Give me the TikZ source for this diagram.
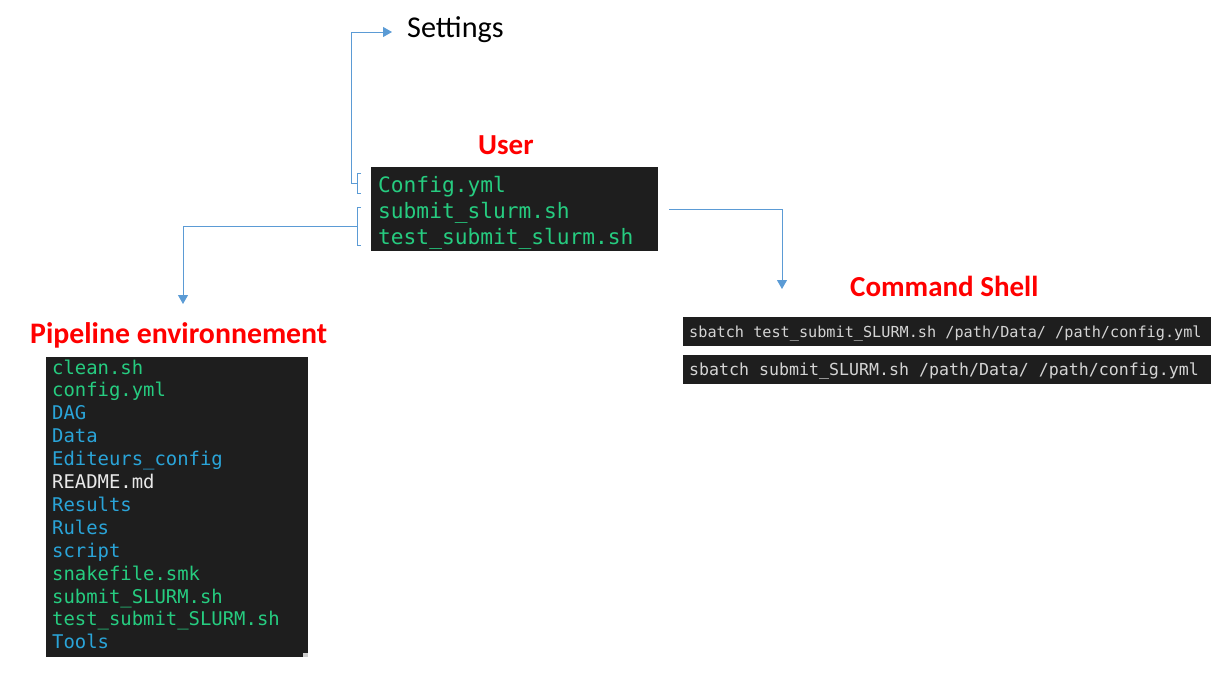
\documentclass[tikz,border=0pt]{standalone}
\usepackage{fontspec}
\setmainfont{Carlito}
\newfontfamily\termfont{DejaVu Sans Mono}
\usetikzlibrary{arrows.meta}
\definecolor{termbg}{HTML}{1E1E1E}
\definecolor{tgreen}{HTML}{26CC80}
\definecolor{tblue}{HTML}{2AA4D8}
\definecolor{twhite}{HTML}{E8E8E8}
\definecolor{tgray}{HTML}{D4D4D4}
\definecolor{arrowblue}{HTML}{5B9BD5}
\definecolor{labelred}{HTML}{FF0000}
\tikzset{
  termbox/.style={fill=termbg, draw=none, inner sep=0pt, anchor=north west},
  usertxt/.style={font=\termfont\fontsize{21.2}{21.2}\selectfont, text=tgreen, inner sep=0pt, anchor=base west},
  pipetxt/.style={font=\termfont\fontsize{18.9}{18.9}\selectfont, inner sep=0pt, anchor=base west},
  shelltxt/.style={font=\termfont\fontsize{15.2}{15.2}\selectfont, text=tgray, inner sep=0pt, anchor=base west},
  shelltxtb/.style={font=\termfont\fontsize{16.6}{16.6}\selectfont, text=tgray, inner sep=0pt, anchor=base west},
  redlabel/.style={font=\bfseries\fontsize{29}{29}\selectfont, text=labelred, inner sep=0pt, anchor=base west},
  conn/.style={draw=arrowblue, line width=1pt},
  arr/.style={conn, -{Triangle[width=10pt,length=9pt]}},
}
\begin{document}
\begin{tikzpicture}[x=1pt,y=-1pt]
\useasboundingbox (0,0) rectangle (1224,673);
% Settings
\node[font=\fontsize{30.2}{30.2}\selectfont, inner sep=0pt, anchor=base west] (settings) at (407,37) {Settings};
\coordinate (settingsIn) at (392,32);
% User
\node[redlabel] (userlabel) at (478,154) {User};
\node[termbox, minimum width=287pt, minimum height=84pt] (userbox) at (371,167) {};
\node[usertxt] (u1) at (378,192) {Config.yml};
\node[usertxt] (u2) at (378,218) {submit\_slurm.sh};
\node[usertxt] (u3) at (378,244) {test\_submit\_slurm.sh};
% brackets
\draw[conn] (361,173) -- (357,173) -- (357,193) -- (361,193);
\coordinate (br1) at (357,183);
\draw[conn] (361,207) -- (357,207) -- (357,245) -- (361,245);
\coordinate (br2) at (357,226);
% Pipeline
\node[redlabel, font=\bfseries\fontsize{29.8}{29.8}\selectfont] (pipelabel) at (30,343) {Pipeline environnement};
\coordinate (pipeIn) at (183,304);
\node[termbox, minimum width=262pt, minimum height=300pt] (pipebox) at (46,357) {};
\node[pipetxt, text=tgreen] (p1) at (52,374) {clean.sh};
\node[pipetxt, text=tgreen] (p2) at (52,396.9) {config.yml};
\node[pipetxt, text=tblue] (p3) at (52,419.8) {DAG};
\node[pipetxt, text=tblue] (p4) at (52,442.7) {Data};
\node[pipetxt, text=tblue] (p5) at (52,465.6) {Editeurs\_config};
\node[pipetxt, text=twhite] (p6) at (52,488.5) {README.md};
\node[pipetxt, text=tblue] (p7) at (52,511.4) {Results};
\node[pipetxt, text=tblue] (p8) at (52,534.3) {Rules};
\node[pipetxt, text=tblue] (p9) at (52,557.2) {script};
\node[pipetxt, text=tgreen] (p10) at (52,580.1) {snakefile.smk};
\node[pipetxt, text=tgreen] (p11) at (52,603) {submit\_SLURM.sh};
\node[pipetxt, text=tgreen] (p12) at (52,625.9) {test\_submit\_SLURM.sh};
\node[pipetxt, text=tblue] (p13) at (52,648.8) {Tools};
\fill[gray!40] (303,653) rectangle (308,657);
% Command shell
\node[redlabel] (shelllabel) at (850,296) {Command Shell};
\coordinate (shellIn) at (782,289);
\coordinate (userOut) at (669,209);
\node[termbox, minimum width=528pt, minimum height=29pt] (sh1) at (683,317) {};
\node[shelltxt] (s1) at (689,337) {sbatch test\_submit\_SLURM.sh /path/Data/ /path/config.yml};
\node[termbox, minimum width=528pt, minimum height=29pt] (sh2) at (683,355) {};
\node[shelltxtb] (s2) at (689,375.5) {sbatch submit\_SLURM.sh /path/Data/ /path/config.yml};
% connectors
\draw[arr] (br1) -- (351,183) |- (settingsIn);
\draw[arr] (br2) -| (pipeIn);
\draw[arr] (userOut) -| (shellIn);
\end{tikzpicture}
\end{document}
